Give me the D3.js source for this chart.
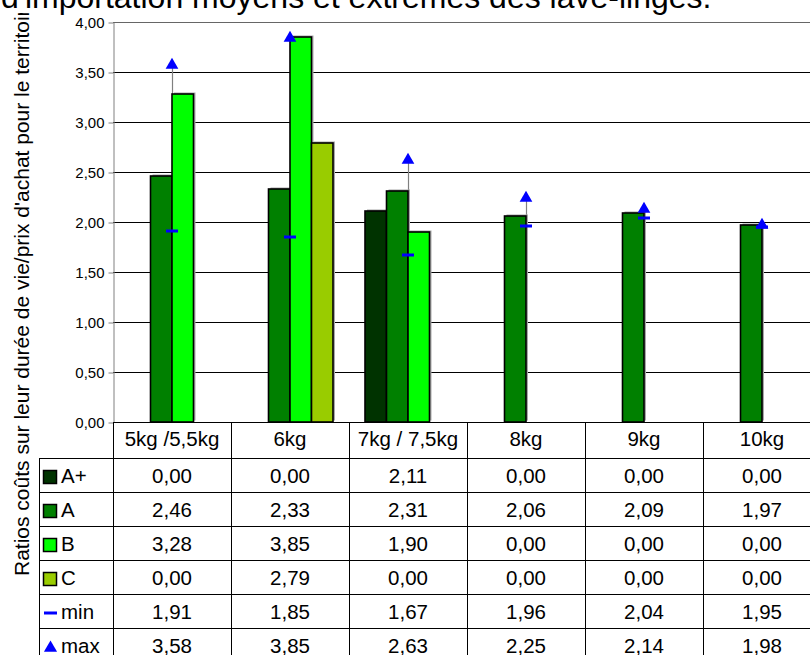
<!DOCTYPE html>
<html>
<head>
<meta charset="utf-8">
<script src="https://cdn.jsdelivr.net/npm/d3@7"></script>
<style>
  html, body { margin: 0; padding: 0; background: #fff; overflow: hidden; }
  svg { display: block; font-family: "Liberation Sans", Arial, sans-serif; }
</style>
</head>
<body>
<svg id="chart" width="810" height="655"></svg>
<script>
// ---- data ----
const categories = ["5kg /5,5kg", "6kg", "7kg / 7,5kg", "8kg", "9kg", "10kg"];
const seriesNames = ["A+", "A", "B", "C"];
const valuesAplus = [0.00, 0.00, 2.11, 0.00, 0.00, 0.00];
const valuesA     = [2.46, 2.33, 2.31, 2.06, 2.09, 1.97];
const valuesB     = [3.28, 3.85, 1.90, 0.00, 0.00, 0.00];
const valuesC     = [0.00, 2.79, 0.00, 0.00, 0.00, 0.00];
const minValues   = [1.91, 1.85, 1.67, 1.96, 2.04, 1.95];
const maxValues   = [3.58, 3.85, 2.63, 2.25, 2.14, 1.98];
const yTicks = [0, 0.5, 1, 1.5, 2, 2.5, 3, 3.5, 4];
const seriesColors = ["#003300", "#008000", "#00ff00", "#99cc00"];
const titleText = "d'importation moyens et extrêmes des lave-linges.";
const yLabelText = "Ratios coûts sur leur durée de vie/prix d'achat pour le territoire";

const barSeries = [valuesAplus, valuesA, valuesB, valuesC];

const svg = d3.select("#chart");
const W = 810, H = 655;
const plotLeft = 113, plotRight = 821, plotTop = 22, plotBottom = 422;

const locale = d3.formatLocale({decimal: ",", thousands: " ", grouping: [3], currency: ["", "€"]});
const fmt = locale.format(".2f");

const x = d3.scaleBand().domain(categories).range([plotLeft, plotRight]);
const xSlot = d3.scaleBand().domain(seriesNames).range([16, x.bandwidth() - 16]);
const y = d3.scaleLinear().domain([0, 4]).range([plotBottom, plotTop]);

// gridlines
svg.append("g").selectAll("line").data(yTicks.filter(t => t > 0)).join("line")
  .attr("x1", plotLeft).attr("x2", W)
  .attr("y1", d => Math.round(y(d)) + 0.5).attr("y2", d => Math.round(y(d)) + 0.5)
  .attr("stroke", d => d === 4 ? "#666" : "#000").attr("stroke-width", 1);

// y axis
const yAxis = d3.axisLeft(y).tickValues(yTicks).tickFormat(fmt).tickSize(5).tickSizeOuter(0);
const gy = svg.append("g").attr("transform", `translate(${plotLeft + 0.5},0.5)`).call(yAxis);
gy.attr("font-size", null).attr("font-family", null);
gy.select(".domain").attr("stroke", "#808080");
gy.selectAll(".tick line").attr("stroke", "#808080");
gy.selectAll(".tick text").style("font-size", "15px")
  .attr("fill", "#000").attr("x", -9).attr("dy", "0.35em");

// high-low lines
svg.append("g").selectAll("line").data(categories).join("line")
  .attr("x1", d => Math.round(x(d) + x.bandwidth() / 2) + 0.5)
  .attr("x2", d => Math.round(x(d) + x.bandwidth() / 2) + 0.5)
  .attr("y1", (d, i) => y(minValues[i])).attr("y2", (d, i) => y(maxValues[i]))
  .attr("stroke", "#808080").attr("stroke-width", 1.2);

// bars
const barData = [];
barSeries.forEach((vals, si) => vals.forEach((v, ci) => {
  if (v > 0) barData.push({s: seriesNames[si], si, c: categories[ci], v});
}));
const gBars = svg.append("g");
gBars.selectAll("rect.shadow").data(barData).join("rect").attr("class", "shadow")
  .attr("x", d => x(d.c) + xSlot(d.s) + 2).attr("y", d => y(d.v) - 1.5)
  .attr("width", xSlot.bandwidth()).attr("height", d => y(0) - y(d.v))
  .attr("fill", "#a8a8a8");
gBars.selectAll("rect.bar").data(barData).join("rect").attr("class", "bar")
  .attr("x", d => x(d.c) + xSlot(d.s)).attr("y", d => y(d.v))
  .attr("width", xSlot.bandwidth()).attr("height", d => y(0) - y(d.v))
  .attr("fill", d => seriesColors[d.si]).attr("stroke", "#000").attr("stroke-width", 1.6);

// min markers
svg.append("g").selectAll("rect").data(categories).join("rect")
  .attr("x", d => x(d) + x.bandwidth() / 2 - 6).attr("y", (d, i) => y(minValues[i]) - 1.5)
  .attr("width", 12).attr("height", 3).attr("fill", "#0000ff");
// max markers
const tri = d3.symbol().type(d3.symbolTriangle).size(70);
svg.append("g").selectAll("path").data(categories).join("path")
  .attr("d", tri)
  .attr("transform", (d, i) => `translate(${x(d) + x.bandwidth() / 2},${y(maxValues[i]) + 1})`)
  .attr("fill", "#0000ff");

// x axis line
svg.append("line").attr("x1", plotLeft).attr("x2", W)
  .attr("y1", plotBottom + 0.5).attr("y2", plotBottom + 0.5).attr("stroke", "#000");

// ---- data table ----
const headerH = 36, rowH = 34, tableLeft = 39;
const rowTop = i => plotBottom + headerH + i * rowH;
const table = svg.append("g").attr("font-size", 20.5);
const colEdges = categories.map(c => x(c)).concat([plotRight]);
table.selectAll("line.v").data(colEdges).join("line").attr("class", "v")
  .attr("x1", d => Math.round(d) + 0.5).attr("x2", d => Math.round(d) + 0.5)
  .attr("y1", plotBottom).attr("y2", H).attr("stroke", "#000");
table.append("line").attr("x1", tableLeft + 0.5).attr("x2", tableLeft + 0.5)
  .attr("y1", rowTop(0)).attr("y2", H).attr("stroke", "#000");
table.selectAll("line.h").data(d3.range(7)).join("line").attr("class", "h")
  .attr("x1", tableLeft).attr("x2", W)
  .attr("y1", d => rowTop(d) + 0.5).attr("y2", d => rowTop(d) + 0.5).attr("stroke", "#000");
table.selectAll("text.cat").data(categories).join("text").attr("class", "cat")
  .attr("x", d => x(d) + x.bandwidth() / 2).attr("y", plotBottom + 24)
  .attr("text-anchor", "middle").text(d => d);

const rowNames = ["A+", "A", "B", "C", "min", "max"];
const rowValues = [valuesAplus, valuesA, valuesB, valuesC, minValues, maxValues];
rowValues.forEach((vals, ri) => {
  const g = table.append("g");
  g.selectAll("text").data(vals).join("text")
    .attr("x", (d, ci) => x(categories[ci]) + x.bandwidth() / 2)
    .attr("y", rowTop(ri) + 25).attr("text-anchor", "middle").text(d => fmt(d));
  g.append("text").attr("x", 61).attr("y", rowTop(ri) + 25).text(rowNames[ri]);
  const cy = rowTop(ri) + rowH / 2 + 2;
  if (ri < 4) {
    g.append("rect").attr("x", 43.5).attr("y", cy - 6.5).attr("width", 13).attr("height", 13)
      .attr("fill", seriesColors[ri]).attr("stroke", "#000").attr("stroke-width", 1.5);
  } else if (ri === 4) {
    g.append("rect").attr("x", 44).attr("y", cy - 1.5).attr("width", 13).attr("height", 3).attr("fill", "#0000ff");
  } else {
    g.append("path").attr("d", d3.symbol().type(d3.symbolTriangle).size(75))
      .attr("transform", `translate(50.5,${cy + 1})`).attr("fill", "#0000ff");
  }
});

// y axis label (clipped at top)
svg.append("clipPath").attr("id", "lblclip").append("rect")
  .attr("x", 0).attr("y", 13).attr("width", 60).attr("height", H);
svg.append("g").attr("clip-path", "url(#lblclip)")
  .append("text").attr("transform", "translate(29,576) rotate(-90)")
  .attr("font-size", 21).attr("text-anchor", "start").text(yLabelText);

// title (partially cut off at the top)
svg.append("text").attr("x", 1).attr("y", 8).attr("font-size", 32).text(titleText);
</script>
</body>
</html>
